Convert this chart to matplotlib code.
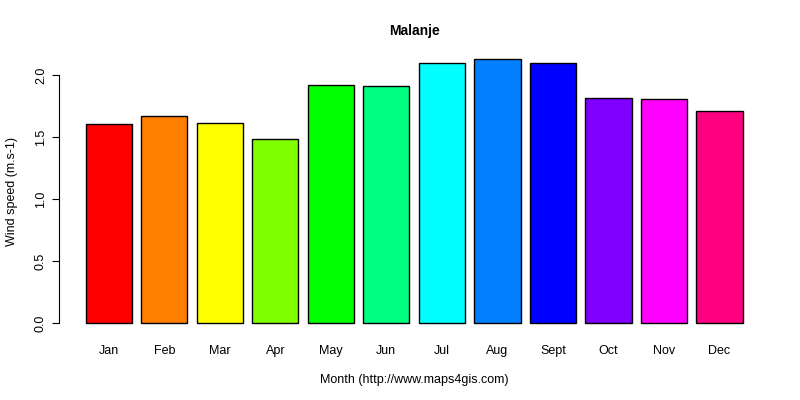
import numpy as np
import matplotlib.pyplot as plt

plt.rcParams['font.family'] = ['Liberation Sans', 'DejaVu Sans']

months = ['Jan', 'Feb', 'Mar', 'Apr', 'May', 'Jun', 'Jul', 'Aug', 'Sept', 'Oct', 'Nov', 'Dec']
wind = [1.605, 1.669, 1.613, 1.484, 1.919, 1.911, 2.097, 2.129, 2.097, 1.815, 1.806, 1.710]
colors = ['#FF0000', '#FF8000', '#FFFF00', '#80FF00', '#00FF00', '#00FF80',
          '#00FFFF', '#0080FF', '#0000FF', '#8000FF', '#FF00FF', '#FF0080']

# R barplot geometry: width 1, space 0.2
x = 0.7 + 1.2 * np.arange(len(months))

fig = plt.figure(figsize=(8, 4), dpi=100)
ax = fig.add_axes([0.0743, 0.165, 0.8867, 0.713])
ax.bar(x, wind, width=1.0, color=colors, edgecolor='black', linewidth=1.0)

lo, hi = 0.2, 0.2 + 1.2 * len(months) - 0.2
pad = (hi - lo) * 0.04
ax.set_xlim(lo - pad, hi + pad)
ymax = max(wind)
ax.set_ylim(-ymax * 0.04, ymax * 1.04)

for s in ['top', 'right', 'bottom']:
    ax.spines[s].set_visible(False)
ax.spines['left'].set_bounds(0, 2.0)

ax.set_yticks([0.0, 0.5, 1.0, 1.5, 2.0])
ax.set_yticklabels(['0.0', '0.5', '1.0', '1.5', '2.0'], rotation=90, va='center', fontsize=9)
ax.tick_params(axis='y', direction='out', length=5, pad=4)
ax.set_xticks(x)
ax.set_xticklabels(months, fontsize=9)
ax.tick_params(axis='x', length=0, pad=8)

ax.set_xlabel('Month (http://www.maps4gis.com)', fontsize=9, labelpad=12)
ax.set_ylabel('Wind speed (m.s-1)', fontsize=9, labelpad=12)
ax.set_title('Malanje', fontsize=10, fontweight='bold', pad=10)

fig.savefig('out.png', dpi=100)
